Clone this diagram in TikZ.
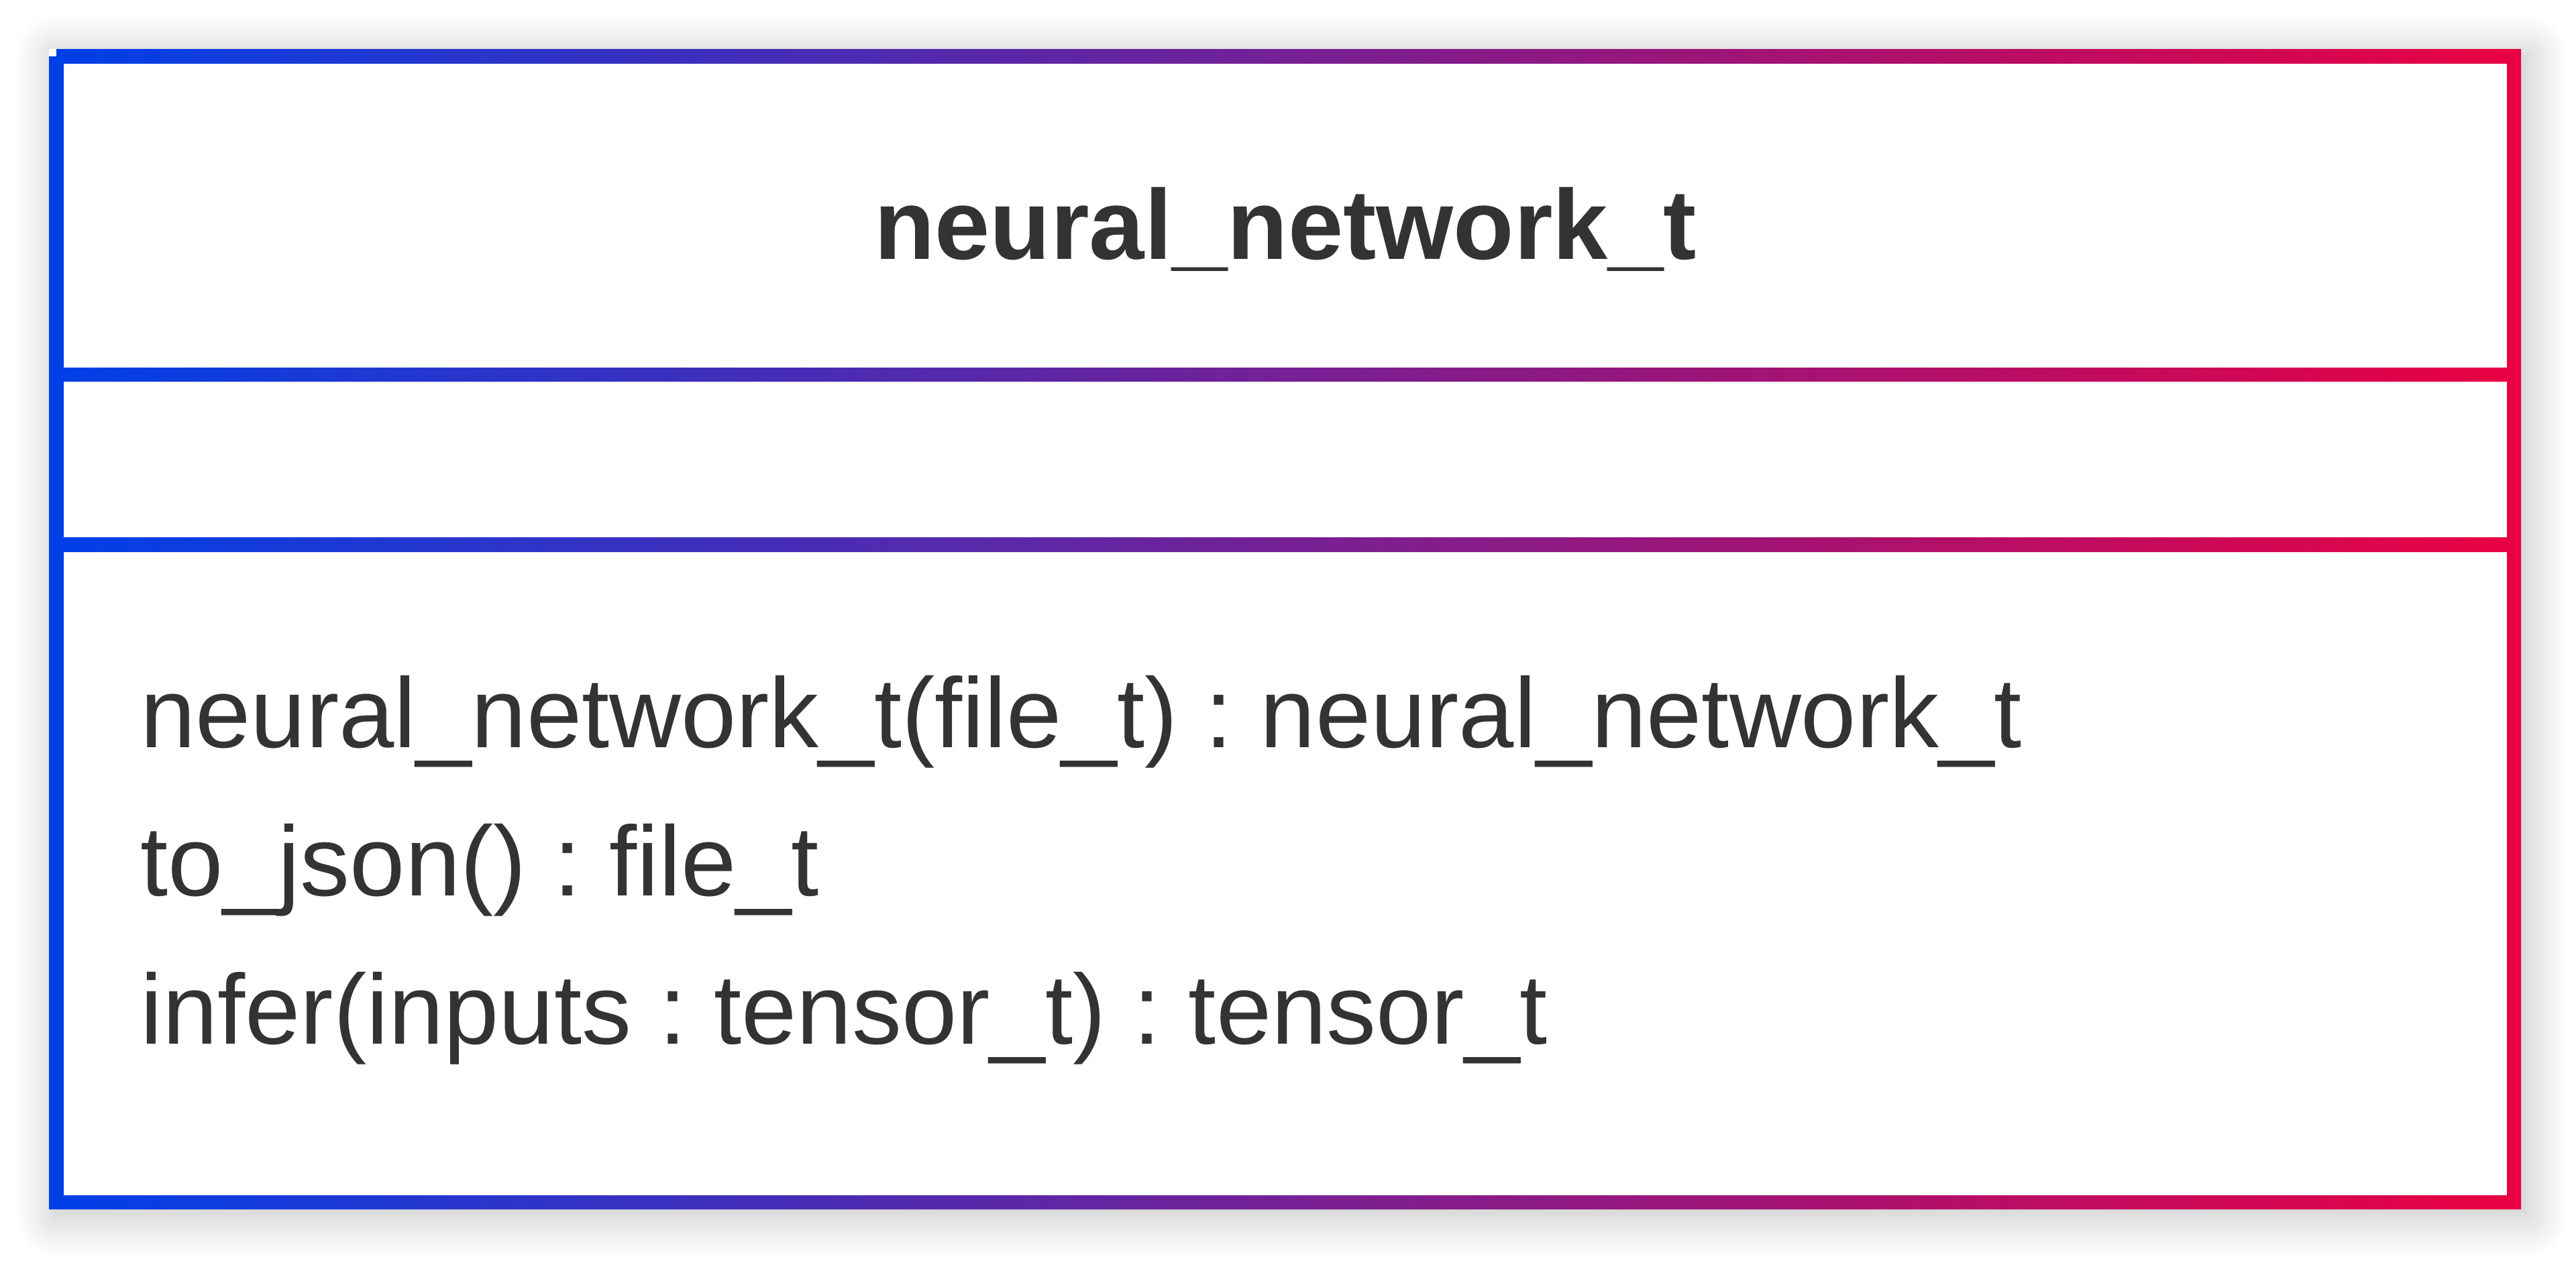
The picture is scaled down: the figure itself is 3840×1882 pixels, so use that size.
\documentclass[tikz,border=0pt]{standalone}
\usepackage{fontspec}
\setmainfont{Liberation Sans}
\usetikzlibrary{shadows.blur}
\definecolor{frameblue}{RGB}{0,64,232}
\definecolor{framered}{RGB}{234,0,66}
\definecolor{ink}{RGB}{51,51,51}
\frenchspacing
\begin{document}
\begin{tikzpicture}[x=1pt,y=-1pt,
  member/.style={anchor=base west, inner sep=0pt, text=ink,
    font=\fontsize{148}{148}\selectfont},
  classname/.style={anchor=base, inner sep=0pt, text=ink,
    font=\fontsize{148}{148}\selectfont\bfseries}]
\useasboundingbox (0,0) rectangle (3840,1882);

% white class box with its soft drop shadow
\fill[white, blur shadow={shadow xshift=10pt, shadow yshift=-10pt,
  shadow blur radius=60pt, shadow opacity=25, shadow blur steps=30}]
  (73,73) rectangle (3758,1803);

% frame and compartment dividers, shaded blue to red
\shade[even odd rule, left color=frameblue, right color=framered]
  (84,73) -- (3758,73) -- (3758,1803) -- (73,1803) -- (73,84) -- (84,84) -- cycle
  (95,95) rectangle (3737,548)
  (95,569) rectangle (3737,801)
  (95,823) rectangle (3737,1782);

% class name
\node[classname] (title) at (1916,386) {neural\_network\_t};

% operations
\node[member] (op1) at (209,1114) {neural\_network\_t(file\_t) : neural\_network\_t};
\node[member] (op2) at (209,1335) {to\_json() : file\_t};
\node[member] (op3) at (209,1556) {infer(inputs : tensor\_t) : tensor\_t};
\end{tikzpicture}
\end{document}
